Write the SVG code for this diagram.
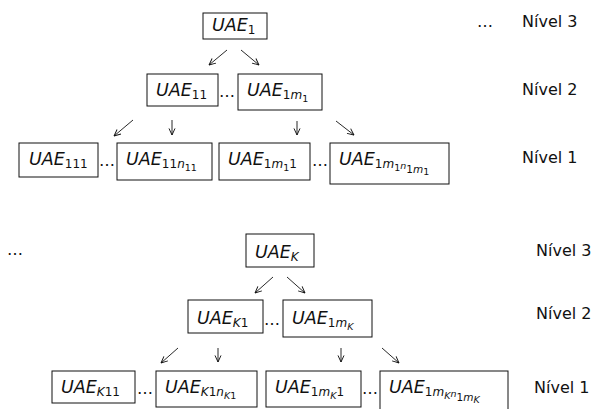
<svg xmlns="http://www.w3.org/2000/svg" width="595" height="409" viewBox="0 0 595 409">
<defs>
<marker id="ah" viewBox="0 0 8 8" refX="7.5" refY="4" markerWidth="7.5" markerHeight="7.5" markerUnits="userSpaceOnUse" orient="auto">
<path d="M0.5,0.8 L7.5,4 L0.5,7.2" fill="none" stroke="#111" stroke-width="1"/>
</marker>
<style>
rect{fill:#fff;stroke:#111;stroke-width:1}
text{font-family:"DejaVu Sans","Liberation Sans",sans-serif;fill:#111}
.u{font-size:17.5px;font-style:italic}
.s{font-size:12px;font-style:normal}
.ss{font-size:9.5px;font-style:normal}
.sm{font-size:10.5px;font-style:normal}
.i{font-style:italic}
.lv{font-size:16px}
.d{font-size:16px}
#conn line{stroke:#111;stroke-width:0.9;marker-end:url(#ah)}
</style>
</defs>

<g id="conn">
<line x1="227" y1="50" x2="209" y2="65"/>
<line x1="241" y1="50" x2="259" y2="65"/>
<line x1="133" y1="120" x2="114" y2="136"/>
<line x1="172" y1="120" x2="172" y2="135"/>
<line x1="297" y1="121" x2="297" y2="135"/>
<line x1="336" y1="121" x2="354" y2="135"/>
<line x1="273" y1="277" x2="255" y2="293"/>
<line x1="287" y1="277" x2="305" y2="293"/>
<line x1="178" y1="348" x2="161" y2="363"/>
<line x1="218" y1="348" x2="218" y2="362"/>
<line x1="341" y1="348" x2="341" y2="362"/>
<line x1="382" y1="348" x2="399" y2="363"/>
</g>

<!-- top tree -->
<g id="uae1"><rect x="203" y="13" width="64" height="26"/>
<text class="u" x="212" y="31">UAE<tspan class="s" dy="3">1</tspan></text></g>

<g id="uae11"><rect x="147" y="74" width="71" height="32"/>
<text class="u" x="156" y="96">UAE<tspan class="s" dy="3">11</tspan></text></g>

<g id="uae1m1"><rect x="238" y="74" width="84" height="36"/>
<text class="u" x="247" y="96">UAE<tspan class="s" dy="3">1<tspan class="i">m</tspan></tspan><tspan class="ss" dy="2.5">1</tspan></text></g>

<g id="uae111"><rect x="19" y="143" width="79" height="34"/>
<text class="u" x="29" y="165">UAE<tspan class="s" dy="3">111</tspan></text></g>

<g id="uae11n11"><rect x="117" y="143" width="95" height="37"/>
<text class="u" x="126" y="165">UAE<tspan class="s" dy="3">11<tspan class="i">n</tspan></tspan><tspan class="ss" dy="2.5">11</tspan></text></g>

<g id="uae1m11"><rect x="219" y="143" width="91" height="37"/>
<text class="u" x="228" y="165">UAE<tspan class="s" dy="3">1<tspan class="i">m</tspan></tspan><tspan class="ss" dy="2.5">1</tspan><tspan class="s" dy="-2.5">1</tspan></text></g>

<g id="uae1m1n1m1"><rect x="330" y="143" width="119" height="41"/>
<text class="u" x="339" y="165">UAE<tspan class="s" dy="3">1<tspan class="i">m</tspan></tspan><tspan class="ss" dy="2.5">1</tspan><tspan class="ss i" dy="-2">n</tspan><tspan class="sm" dy="4">1<tspan class="i">m</tspan></tspan><tspan class="ss" dy="2">1</tspan></text></g>

<g id="dots-top">
<text class="d" x="219" y="97">…</text>
<text class="d" x="99" y="166">…</text>
<text class="d" x="312" y="166">…</text>
<text class="d" x="477" y="27">…</text>
</g>

<g id="levels-top">
<text class="lv" x="522" y="27">Nível 3</text>
<text class="lv" x="522" y="95">Nível 2</text>
<text class="lv" x="522" y="163">Nível 1</text>
</g>

<!-- bottom tree -->
<g id="uaeK"><rect x="246" y="234" width="68" height="33"/>
<text class="u" x="255" y="258">UAE<tspan class="s i" dy="3">K</tspan></text></g>

<g id="uaeK1"><rect x="188" y="300" width="75" height="33"/>
<text class="u" x="197" y="324">UAE<tspan class="s" dy="3"><tspan class="i">K</tspan>1</tspan></text></g>

<g id="uae1mK"><rect x="283" y="300" width="89" height="37"/>
<text class="u" x="292" y="324">UAE<tspan class="s" dy="3">1<tspan class="i">m</tspan></tspan><tspan class="ss i" dy="2.5">K</tspan></text></g>

<g id="uaeK11"><rect x="52" y="371" width="83" height="32"/>
<text class="u" x="61" y="393">UAE<tspan class="s" dy="3"><tspan class="i">K</tspan>11</tspan></text></g>

<g id="uaeK1nK1"><rect x="156" y="371" width="101" height="36"/>
<text class="u" x="165" y="393">UAE<tspan class="s" dy="3"><tspan class="i">K</tspan>1<tspan class="i">n</tspan></tspan><tspan class="ss" dy="2.5"><tspan class="i">K</tspan>1</tspan></text></g>

<g id="uae1mK1"><rect x="266" y="371" width="95" height="36"/>
<text class="u" x="275" y="393">UAE<tspan class="s" dy="3">1<tspan class="i">m</tspan></tspan><tspan class="ss i" dy="2.5">K</tspan><tspan class="s" dy="-2.5">1</tspan></text></g>

<g id="uae1mKn1mK"><rect x="380" y="371" width="128" height="42"/>
<text class="u" x="389" y="393">UAE<tspan class="s" dy="3">1<tspan class="i">m</tspan></tspan><tspan class="ss i" dy="2.5">K</tspan><tspan class="ss i" dy="-2">n</tspan><tspan class="sm" dy="4">1<tspan class="i">m</tspan></tspan><tspan class="ss i" dy="2">K</tspan></text></g>

<g id="dots-bottom">
<text class="d" x="7" y="255">…</text>
<text class="d" x="264" y="325">…</text>
<text class="d" x="137" y="394">…</text>
<text class="d" x="362" y="394">…</text>
</g>

<g id="levels-bottom">
<text class="lv" x="536" y="256">Nível 3</text>
<text class="lv" x="536" y="319">Nível 2</text>
<text class="lv" x="534" y="393">Nível 1</text>
</g>
</svg>
